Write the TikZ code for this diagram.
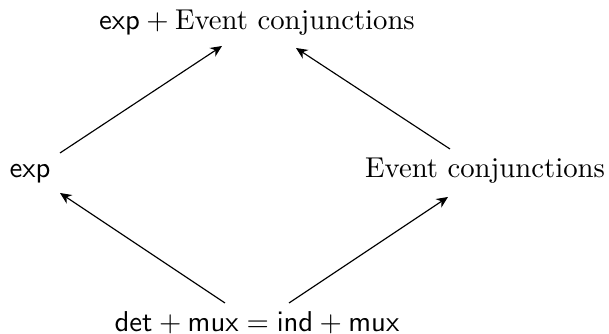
\documentclass[tikz,border=0pt]{standalone}
\usepackage{amsmath}
\usetikzlibrary{arrows.meta}
\tikzset{
  lbl/.style={inner sep=0pt, anchor=base, font=\fontsize{10}{12}\selectfont},
  arr/.style={-{Stealth[length=4pt,width=3.6pt]}, line width=0.4pt}
}
\begin{document}
\begin{tikzpicture}[x=0.3484pt,y=-0.3484pt]
\useasboundingbox (0,0) rectangle (609,334);
\node[lbl] (top) at (257,30) {$\mathsf{exp} + \text{Event conjunctions}$};
\node[lbl] (lft) at (30,177.5) {$\mathsf{exp}$};
\node[lbl] (rgt) at (485,177.5) {Event conjunctions};
\node[lbl] (bot) at (257,332) {$\mathsf{det} + \mathsf{mux} = \mathsf{ind} + \mathsf{mux}$};
\coordinate (a1) at (60,153);
\coordinate (a2) at (222,46);
\coordinate (b1) at (450,149);
\coordinate (b2) at (296,48);
\coordinate (c1) at (225,303);
\coordinate (c2) at (60,193);
\coordinate (d1) at (289,303);
\coordinate (d2) at (448,197);
\draw[arr] (a1) -- (a2);
\draw[arr] (b1) -- (b2);
\draw[arr] (c1) -- (c2);
\draw[arr] (d1) -- (d2);
\end{tikzpicture}
\end{document}
